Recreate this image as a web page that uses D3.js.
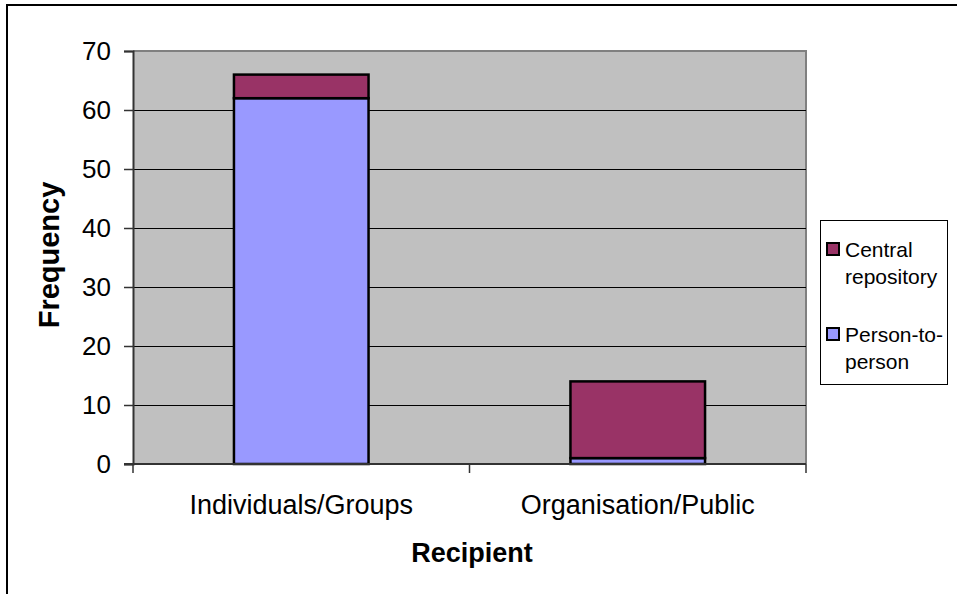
<!DOCTYPE html>
<html>
<head>
<meta charset="utf-8">
<script src="https://cdn.jsdelivr.net/npm/d3@7/dist/d3.min.js"></script>
<style>
  html, body { margin: 0; padding: 0; background: #fff; }
  svg { display: block; font-family: "Liberation Sans", Arial, sans-serif; }
</style>
</head>
<body>
<svg id="chart" width="957" height="594"></svg>
<script>
// Recipient categories and stacked series values
const categories = ["Individuals/Groups", "Organisation/Public"];
const personToPerson = [62, 1];
const centralRepository = [4, 13];
const seriesNames = ["Person-to-person", "Central repository"];
const seriesColors = ["#9999FF", "#993366"];
const yTicks = [0, 10, 20, 30, 40, 50, 60, 70];

const FONT = "Liberation Sans, Arial, sans-serif";
const svg = d3.select("#chart");

// Outer chart frame (top and left edges visible)
svg.append("path")
  .attr("d", "M7,594 V5 H957")
  .attr("fill", "none")
  .attr("stroke", "#000")
  .attr("stroke-width", 2);

const plot = { left: 133, top: 51, right: 806, bottom: 464 };

const x = d3.scaleBand()
  .domain(categories)
  .range([plot.left, plot.right])
  .paddingInner(0.6)
  .paddingOuter(0.3);

const y = d3.scaleLinear()
  .domain([0, 70])
  .range([plot.bottom, plot.top]);

// Plot area background
svg.append("rect")
  .attr("x", plot.left)
  .attr("y", plot.top)
  .attr("width", plot.right - plot.left)
  .attr("height", plot.bottom - plot.top)
  .attr("fill", "#C0C0C0");

// Plot area border on top and right
svg.append("path")
  .attr("d", `M${plot.left},${plot.top} H${plot.right} V${plot.bottom}`)
  .attr("fill", "none")
  .attr("stroke", "#808080")
  .attr("stroke-width", 2);

// Horizontal gridlines
svg.append("g")
  .selectAll("line")
  .data(yTicks.filter(t => t > 0 && t < 70))
  .join("line")
  .attr("x1", plot.left)
  .attr("x2", plot.right)
  .attr("y1", d => Math.round(y(d)) + 0.5)
  .attr("y2", d => Math.round(y(d)) + 0.5)
  .attr("stroke", "#000")
  .attr("stroke-width", 1);

// Stacked bars
const rows = categories.map((c, i) => ({
  category: c,
  "Person-to-person": personToPerson[i],
  "Central repository": centralRepository[i]
}));
const stack = d3.stack().keys(seriesNames)(rows);

svg.append("g")
  .selectAll("g")
  .data(stack)
  .join("g")
  .attr("fill", (d, i) => seriesColors[i])
  .selectAll("rect")
  .data(d => d)
  .join("rect")
  .attr("x", d => x(d.data.category))
  .attr("width", x.bandwidth())
  .attr("y", d => y(d[1]))
  .attr("height", d => y(d[0]) - y(d[1]))
  .attr("stroke", "#000")
  .attr("stroke-width", 2.5);

// Y axis
const yAxis = svg.append("g")
  .attr("transform", `translate(${plot.left},0)`)
  .call(d3.axisLeft(y).tickValues(yTicks).tickSize(9).tickPadding(13));
yAxis.attr("font-size", null).attr("font-family", null);
yAxis.select(".domain").attr("stroke", "#333").attr("stroke-width", 2);
yAxis.selectAll(".tick line").attr("stroke", "#333").attr("stroke-width", 1.5);
yAxis.selectAll("text")
  .style("font-size", "26px")
  .style("font-family", FONT)
  .attr("fill", "#000");

// X axis baseline and category dividers
const xAxisG = svg.append("g");
xAxisG.append("line")
  .attr("x1", plot.left - 9)
  .attr("x2", plot.right)
  .attr("y1", plot.bottom)
  .attr("y2", plot.bottom)
  .attr("stroke", "#333")
  .attr("stroke-width", 2);
const dividers = [plot.left, (plot.left + plot.right) / 2, plot.right];
xAxisG.selectAll("line.div")
  .data(dividers)
  .join("line")
  .attr("class", "div")
  .attr("x1", d => d)
  .attr("x2", d => d)
  .attr("y1", plot.bottom)
  .attr("y2", plot.bottom + 9)
  .attr("stroke", "#333")
  .attr("stroke-width", 1.5);
xAxisG.selectAll("text")
  .data(categories)
  .join("text")
  .attr("x", d => x(d) + x.bandwidth() / 2)
  .attr("y", 514)
  .attr("text-anchor", "middle")
  .style("font-size", "27px")
  .style("font-family", FONT)
  .text(d => d);

// Axis titles
svg.append("text")
  .attr("x", 472)
  .attr("y", 562)
  .attr("text-anchor", "middle")
  .style("font-size", "27px")
  .style("font-family", FONT)
  .attr("font-weight", "bold")
  .text("Recipient");

svg.append("text")
  .attr("transform", "translate(59,255) rotate(-90)")
  .attr("text-anchor", "middle")
  .style("font-size", "29px")
  .style("font-family", FONT)
  .attr("font-weight", "bold")
  .text("Frequency");

// Legend
const legend = svg.append("g");
legend.append("rect")
  .attr("x", 820.5)
  .attr("y", 220.5)
  .attr("width", 127)
  .attr("height", 164)
  .attr("fill", "#fff")
  .attr("stroke", "#000")
  .attr("stroke-width", 1);

const legendItems = [
  { name: seriesNames[1], color: seriesColors[1], lines: ["Central", "repository"], top: 243 },
  { name: seriesNames[0], color: seriesColors[0], lines: ["Person-to-", "person"], top: 328 }
];
legendItems.forEach(item => {
  legend.append("rect")
    .attr("x", 827)
    .attr("y", item.top)
    .attr("width", 12)
    .attr("height", 12)
    .attr("fill", item.color)
    .attr("stroke", "#000")
    .attr("stroke-width", 2);
  const t = legend.append("text")
    .attr("x", 845)
    .attr("y", item.top + 14)
    .style("font-size", "21px")
    .style("font-family", FONT);
  item.lines.forEach((ln, j) => {
    t.append("tspan")
      .attr("x", 845)
      .attr("dy", j === 0 ? 0 : 27)
      .text(ln);
  });
});
</script>
</body>
</html>
